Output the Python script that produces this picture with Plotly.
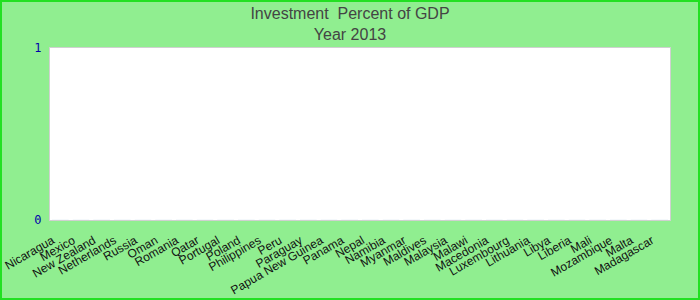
import plotly.graph_objects as go

countries = ["Nicaragua", "Mexico", "New Zealand", "Netherlands", "Russia", "Oman",
             "Romania", "Qatar", "Portugal", "Poland", "Philippines", "Peru", "Paraguay",
             "Papua New Guinea", "Panama", "Nepal", "Namibia", "Myanmar", "Maldives",
             "Malaysia", "Malawi", "Macedonia", "Luxembourg", "Lithuania", "Libya",
             "Liberia", "Mali", "Mozambique", "Malta", "Madagascar"]
values = [0] * len(countries)
y_ticks = [0, 1]

L, R, T, B = 50, 30, 48, 80
W, H = 700, 300
pw, ph = W - L - R, H - T - B

fig = go.Figure(go.Bar(x=countries, y=values, marker_color="#4a7fd0"))

fig.update_layout(
    width=W, height=H,
    margin=dict(l=L, r=R, t=T, b=B, pad=0, autoexpand=False),
    paper_bgcolor="#90EE90",
    plot_bgcolor="white",
    showlegend=False,
    title=dict(text="Investment  Percent of GDP<br>Year 2013", x=0.5, xanchor="center",
               yref="container", y=1 - 19 / H, yanchor="middle",
               font=dict(family="Liberation Sans, Arial", size=16, color="#444444")),
    xaxis=dict(type="category", tickangle=-30, showgrid=False, showline=True, mirror=True,
               linecolor="#d0d0d0", linewidth=1, ticks="", automargin=False,
               ticklabelstandoff=8, ticklabelshift=-8,
               tickfont=dict(family="Liberation Sans, Arial", size=12, color="#111111")),
    yaxis=dict(range=[0, 1], tickvals=y_ticks, showgrid=False, zeroline=False,
               showline=True, mirror=True, linecolor="#d0d0d0", linewidth=1,
               ticklabelstandoff=5, automargin=False,
               tickfont=dict(family="DejaVu Sans Mono, monospace", size=12, color="#0000AA")),
    shapes=[dict(type="rect", xref="paper", yref="paper",
                 x0=-L / pw + 1 / pw, x1=1 + (R - 1) / pw,
                 y0=-B / ph + 1 / ph, y1=1 + (T - 1) / ph,
                 line=dict(color="#22e022", width=2), layer="above")],
)

fig.write_html("out.html")
